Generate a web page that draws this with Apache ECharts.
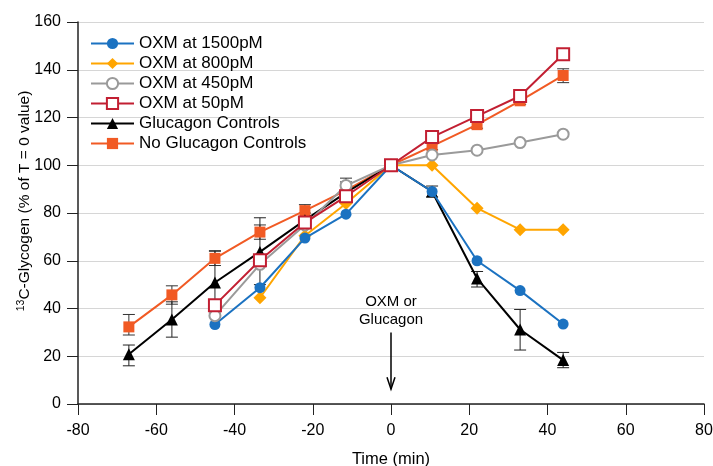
<!DOCTYPE html>
<html>
<head>
<meta charset="utf-8">
<script src="https://cdn.jsdelivr.net/npm/echarts@6/dist/echarts.min.js"></script>
<style>
  html, body { margin: 0; padding: 0; background: #fff; }
  #chart { width: 713px; height: 466px; }
</style>
</head>
<body>
<div id="chart"></div>
<script>
// time points (min)
const times = [-67, -56, -45, -33.5, -22, -11.5, 0, 10.5, 22, 33, 44];

const oxm1500 = [null, null, 33.3, 48.7, 69.5, 79.5, 100, 89, 60, 47.5, 33.5];
const oxm800 = [null, null, null, 44.5, 70.5, 84, 100, 100, 82, 73, 73];
const oxm450 = [null, null, 37, 58.5, 75, 91.5, 100, 104.3, 106.3, 109.5, 113];
const oxm50 = [null, null, 41.4, 60.2, 76, 87, 100, 111.8, 120.6, 129, 146.5];
const glucCtrl = [20.8, 35.4, 50.9, 63.7, 77, 88.5, 100, 89, 52.6, 31.2, 18.4];
const noGlucCtrl = [32.3, 45.7, 61, 72, 81, 89.5, 100, 108, 117, 127, 137.6];

// error bars [low, high]
const glucErr = [[16, 24.7], [28, 42.8], [38, 64], [50, 78], [74, 80], [85, 93], null,
  [86.7, 91.3], [49, 55.5], [22.6, 39.6], [15.2, 21.6]];
const noGlucErr = [[28.9, 37.5], [41.8, 49.5], [58, 64.2], [69, 75], [78.5, 83.5], [86, 94.6], null,
  [106.5, 109.5], [115.5, 118.5], [125.5, 128.5], [134.6, 140.4]];

const yTicks = [0, 20, 40, 60, 80, 100, 120, 140, 160];
const xTicks = [-80, -60, -40, -20, 0, 20, 40, 60, 80];

function pairs(vals) {
  const out = [];
  vals.forEach((v, i) => { if (v !== null) out.push([times[i], v]); });
  return out;
}
function errData(errs) {
  const out = [];
  errs.forEach((e, i) => { if (e) out.push([times[i], e[0], e[1]]); });
  return out;
}
function errSeries(errs, color) {
  return {
    type: 'custom',
    data: errData(errs),
    z: 1,
    silent: true,
    renderItem: function (params, api) {
      const x = api.value(0);
      const lo = api.coord([x, api.value(1)]);
      const hi = api.coord([x, api.value(2)]);
      const w = 6;
      const st = { stroke: color, lineWidth: 1 };
      return {
        type: 'group',
        children: [
          { type: 'line', shape: { x1: lo[0], y1: lo[1], x2: hi[0], y2: hi[1] }, style: st },
          { type: 'line', shape: { x1: lo[0] - w, y1: lo[1], x2: lo[0] + w, y2: lo[1] }, style: st },
          { type: 'line', shape: { x1: hi[0] - w, y1: hi[1], x2: hi[0] + w, y2: hi[1] }, style: st }
        ]
      };
    }
  };
}

const font = 'Liberation Sans, Arial, sans-serif';

function lineSeries(name, vals, color, symbol, size, hollow, z) {
  return {
    name: name,
    type: 'line',
    data: pairs(vals),
    symbol: symbol,
    symbolSize: size,
    showSymbol: true,
    z: z,
    lineStyle: { color: color, width: 2 },
    itemStyle: hollow
      ? { color: '#fff', borderColor: color, borderWidth: 2 }
      : { color: color, borderWidth: 0 },
    color: color
  };
}

const chart = echarts.init(document.getElementById('chart'));
const option = {
  animation: false,
  backgroundColor: '#fff',
  textStyle: { fontFamily: font },
  grid: { left: 78, right: 9, top: 22, bottom: 62, outerBoundsMode: 'none', containLabel: false },
  legend: {
    orient: 'vertical',
    left: 85,
    top: 30,
    itemWidth: 43,
    itemHeight: 14,
    itemGap: 3,
    textStyle: { fontFamily: font, fontSize: 17, color: '#000' },
    data: ['OXM at 1500pM', 'OXM at 800pM', 'OXM at 450pM', 'OXM at 50pM',
      'Glucagon Controls', 'No Glucagon Controls']
  },
  xAxis: {
    type: 'value',
    min: xTicks[0],
    max: xTicks[xTicks.length - 1],
    interval: 20,
    name: 'Time (min)',
    nameLocation: 'middle',
    nameGap: 47,
    nameMoveOverlap: false,
    nameTextStyle: { fontFamily: font, fontSize: 16.5, color: '#000' },
    axisLine: { onZero: false, lineStyle: { color: '#222', width: 1.5 } },
    axisTick: { show: true, length: 11, lineStyle: { color: '#222' } },
    axisLabel: { fontFamily: font, fontSize: 16, color: '#000', margin: 19 },
    splitLine: { show: false }
  },
  yAxis: {
    type: 'value',
    min: yTicks[0],
    max: yTicks[yTicks.length - 1],
    interval: 20,
    name: '{sup|13}C-Glycogen (% of T = 0 value)',
    nameLocation: 'middle',
    nameGap: 45,
    nameMoveOverlap: false,
    nameRotate: 90,
    nameTextStyle: {
      fontFamily: font, fontSize: 15.5, color: '#000', padding: [0, 0, 0, 24],
      rich: { sup: { fontSize: 10.5, verticalAlign: 'bottom', padding: [0, 0, 6, 0], fontFamily: font, color: '#000' } }
    },
    axisLine: { show: true, onZero: false, lineStyle: { color: '#222', width: 1.5 } },
    axisTick: { show: true, length: 11, lineStyle: { color: '#222' } },
    axisLabel: { fontFamily: font, fontSize: 16, color: '#000', margin: 17 },
    splitLine: { show: true, lineStyle: { color: '#d6d6d6', width: 1 } }
  },
  series: [
    errSeries(noGlucErr, '#333'),
    errSeries(glucErr, '#222'),
    lineSeries('No Glucagon Controls', noGlucCtrl, '#f15a24', 'rect', 11, false, 2),
    lineSeries('Glucagon Controls', glucCtrl, '#000', 'triangle', 12, false, 3),
    lineSeries('OXM at 800pM', oxm800, '#ffa500', 'diamond', 13, false, 4),
    lineSeries('OXM at 1500pM', oxm1500, '#1b72c1', 'circle', 11, false, 5),
    lineSeries('OXM at 450pM', oxm450, '#9a9a9a', 'circle', 11, true, 6),
    lineSeries('OXM at 50pM', oxm50, '#c21f32', 'rect', 12, true, 7)
  ]
};
chart.setOption(option);

// annotation: "OXM or Glucagon" with down arrow at t = 0
const arrowTop = chart.convertToPixel({ gridIndex: 0 }, [0, 30]);
const arrowBot = chart.convertToPixel({ gridIndex: 0 }, [0, 6.2]);
const txtPos = chart.convertToPixel({ gridIndex: 0 }, [0, 39]);
chart.setOption({
  graphic: [
    {
      type: 'text',
      x: txtPos[0], y: txtPos[1],
      style: {
        text: 'OXM or\nGlucagon', fontFamily: font, fontSize: 15, fill: '#000',
        align: 'center', verticalAlign: 'middle', lineHeight: 18
      }
    },
    {
      type: 'line',
      shape: { x1: arrowTop[0], y1: arrowTop[1], x2: arrowBot[0], y2: arrowBot[1] },
      style: { stroke: '#000', lineWidth: 1.5 }
    },
    {
      type: 'polyline',
      shape: { points: [[arrowBot[0] - 4, arrowBot[1] - 12], [arrowBot[0], arrowBot[1]], [arrowBot[0] + 4, arrowBot[1] - 12]] },
      style: { stroke: '#000', lineWidth: 1.5, fill: 'none' }
    }
  ]
});
</script>
</body>
</html>
